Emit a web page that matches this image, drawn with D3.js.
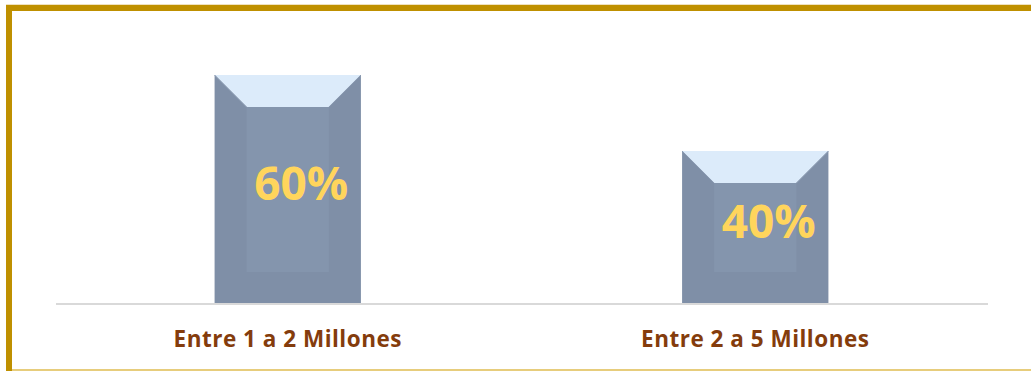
<!DOCTYPE html>
<html>
<head>
<meta charset="utf-8">
<script src="https://cdn.jsdelivr.net/npm/d3@7"></script>
<style>
  html, body { margin: 0; padding: 0; background: #ffffff; }
  svg { display: block; }
</style>
</head>
<body>
<svg id="chart" width="1031" height="371"></svg>
<script>
// Share of respondents by income bracket
const categories = ["Entre 1 a 2 Millones", "Entre 2 a 5 Millones"];
const values = [0.60, 0.40];
const valueLabels = ["60%", "40%"];

const W = 1031, H = 371;
const svg = d3.select("#chart");

// Frame: gold border along the left, top and bottom edges
svg.append("rect").attr("x", 0).attr("y", 0).attr("width", W).attr("height", H).attr("fill", "#ffffff");
svg.append("line").attr("x1", 6).attr("x2", W).attr("y1", 4.5).attr("y2", 4.5)
  .attr("stroke", "#efe2bf").attr("stroke-width", 1);
svg.append("line").attr("x1", 6).attr("x2", W).attr("y1", 8).attr("y2", 8)
  .attr("stroke", "#bf9000").attr("stroke-width", 6);
svg.append("line").attr("x1", 9).attr("x2", 9).attr("y1", 5).attr("y2", H)
  .attr("stroke", "#bf9000").attr("stroke-width", 6);
svg.append("line").attr("x1", 12).attr("x2", W).attr("y1", 370).attr("y2", 370)
  .attr("stroke", "#e7cd7c").attr("stroke-width", 2);

// Scales
const baseY = 303;
const x = d3.scaleBand().domain(categories).range([54, 989]).padding(0);
const y = d3.scaleLinear().domain([0, 0.60]).range([baseY, 75]);

const barRatio = 0.313;
const bevel = 32;

// Category axis line
svg.append("line")
  .attr("x1", 56).attr("x2", 988)
  .attr("y1", baseY + 1).attr("y2", baseY + 1)
  .attr("stroke", "#d9d9d9").attr("stroke-width", 2);

const bars = svg.append("g").selectAll("g")
  .data(categories.map((c, i) => ({ c, v: values[i], label: valueLabels[i] })))
  .join("g");

bars.each(function(d) {
  const g = d3.select(this);
  const bw = x.bandwidth() * barRatio;
  const cx = x(d.c) + x.bandwidth() / 2;
  const x0 = cx - bw / 2, x1 = cx + bw / 2;
  const top = y(d.v), bottom = y(0);

  // outer body (side faces)
  g.append("rect")
    .attr("x", x0).attr("y", top)
    .attr("width", bw).attr("height", bottom - top)
    .attr("fill", "#7f8fa7");
  // inner face
  g.append("rect")
    .attr("x", x0 + bevel).attr("y", top + bevel)
    .attr("width", bw - 2 * bevel).attr("height", bottom - top - 2 * bevel + 1)
    .attr("fill", "#8495ad");
  // top bevel face
  g.append("path")
    .attr("d", `M${x0},${top}L${x1},${top}L${x1 - bevel},${top + bevel}L${x0 + bevel},${top + bevel}Z`)
    .attr("fill", "#dcebfa");
  // diagonal edges
  g.append("path")
    .attr("d", `M${x0},${top}L${x0 + bevel},${top + bevel}M${x1},${top}L${x1 - bevel},${top + bevel}`)
    .attr("stroke", "#8a9ab1").attr("stroke-width", 1).attr("fill", "none");

  // value label
  g.append("text")
    .attr("x", cx + 13.5)
    .attr("y", (top + bottom) / 2 + 10.5)
    .attr("text-anchor", "middle")
    .attr("font-family", "'Open Sans', Lato, sans-serif")
    .attr("font-weight", 700)
    .attr("font-size", 46)
    .attr("fill", "#ffd55c")
    .text(d.label);

  // category label
  g.append("text")
    .attr("x", cx)
    .attr("y", 347)
    .attr("text-anchor", "middle")
    .attr("font-family", "'Open Sans', Lato, sans-serif")
    .attr("font-weight", 700)
    .attr("font-size", 22.5)
    .attr("letter-spacing", 0.5)
    .attr("fill", "#843c0c")
    .text(d.c);
});
</script>
</body>
</html>
